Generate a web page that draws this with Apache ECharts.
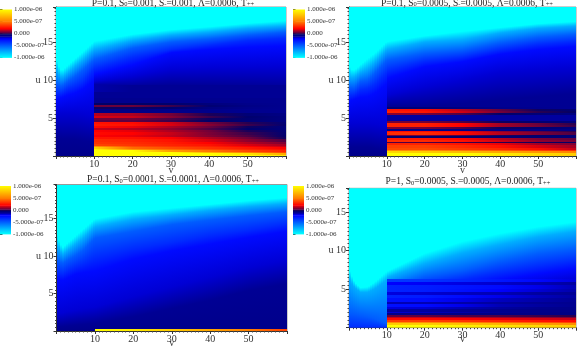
<!DOCTYPE html>
<html><head><meta charset="utf-8">
<style>html,body{margin:0;padding:0;background:#fff}#c{width:579px;height:349px}#c canvas{filter:blur(0.45px)}</style>
<script src="https://cdn.jsdelivr.net/npm/echarts@6/dist/echarts.min.js"></script>
</head><body><div id="c"></div>
<script>
// values are in units of 1e-8
const colorStops = [[-100,'#00ffff'],[-22,'#0000ff'],[-12,'#000094'],[-3,'#000068'],[0,'#280050'],[3,'#600040'],[20,'#ff0000'],[50,'#ff8000'],[100,'#ffff00']];
const colorbarTicks = {'100':'1.000e-06','50':'5.000e-07','0':'0.000','-50':'-5.000e-07','-100':'-1.000e-06'};
const contourLevels = [-100,-75,-50,-35,-25,-18,-12];
const bottomLevel = -10;
const vLeft = [0,0.5,1.5,3,5,7,10];
const vRight = [10,20,30,40,50,60];

const titles = [
  ['0.1','0.001','0.001','0','-','++'],
  ['0.1','0.0005','0.0005','0','-','++'],
  ['0.1','0.0001','0.0001','0','-','++'],
  ['1','0.0005','0.0005','0','-','++']
];

// contour heights u per v column, one number per contour level
const p1Left = [
 [13.2,11.5,9.5,8.3,7.5,5.5,2.5],[12,10.9,9.4,8.3,7.5,5.6,2.4],[11.2,10.3,9.2,8.3,7.7,5.7,2.2],
 [11.9,10.9,9.8,8.8,8,5.7,2.2],[12.8,11.8,10.5,9.2,8.3,5.7,2.2],[13.7,12.6,11.3,9.7,8.8,5.6,2],[15.1,14,12.7,11.5,10,5.3,1.8]];
const p1Right = [
 [15.1,14,12.7,11.5,10.7,9.8,9.2],[16,15.2,14.2,13,12,10.5,9],[16.6,15.9,15,14,13.6,11.4,9.2],
 [17,16.3,15.4,14.6,14,11.6,9.1],[17.45,16.8,15.9,15.2,14.3,11.7,9],[17.8,17.1,16.3,15.5,14.5,11.8,8.8]];
const p2Left = [
 [12,10.5,9,8,7.2,4.3,1.2],[11.4,10.3,9,8,7.3,4.3,1.2],[11.3,10.4,9,8.1,7.5,4.3,1.2],
 [12,11,9.8,8.7,7.7,4.3,1.2],[12.85,11.5,10,8.9,7.8,4.3,1.2],[13.6,12.4,11,9.5,8.3,4.2,1],[15.04,14,12.6,11,9.5,4,0.8]];
const p2Right = [
 [15.04,14,12.6,11.2,10.2,8,6.5],[15.8,15,13.5,12.5,11.75,9.1,6.5],[16.4,15.3,13.9,13,12.4,10,6.9],
 [16.9,16.2,14.9,14,13.4,11,7.4],[17.4,16.8,15.6,14.7,14,11.4,7.8],[17.7,17.1,16,15.1,14.4,11.75,8.2]];
const p3Left = [
 [13.55,11.7,9.6,7.9,7,2.4,0.6],[12.3,11.1,9.4,7.9,6.9,2.4,0.6],[11.1,10.2,9,7.6,6.75,2.4,0.6],
 [11.8,10.8,9.5,8.1,7.1,2.6,0.7],[12.7,11.6,10.1,8.6,7.6,2.8,0.8],[13.6,12.4,10.8,9,7.8,3,0.9],[14.96,13.9,12.4,9.8,8,3.2,1.05]];
const p3Right = [
 [14.96,13.9,12.4,9.8,8,3.2,1.05],[15.9,14.9,13.3,11,9.6,4.6,1.9],[16.4,15.5,14.2,11.8,10.7,5.9,3],
 [16.9,16.1,14.8,12.8,11.6,7.2,4.1],[17.4,16.6,15.4,13.5,12.5,8.5,5.4],[17.8,17,15.9,14.3,13.3,9.4,6.3]];
const p4Left = [
 [7.7,6.4,1.9,0,0,0,0],[7,5.9,1.9,0,0,0,0],[5.9,5.2,1.8,0,0,0,0],
 [5.2,4.6,1.6,0,0,0,0],[5.3,4.6,1.4,0,0,0,0],[6,5.1,1.1,0,0,0,0],[7.3,6.2,0.5,0,0,0,0]];
const p4Right = [
 [7.3,6.5,5,4,3,2,1],[9.65,8.3,6.6,5.5,4.5,3,1],[11.2,9.7,7.4,6.3,5.3,3.5,1],
 [12.25,10.8,8.6,7.2,6.2,5,3],[13.1,11.8,9.6,8,7,5.5,4],[13.75,12.5,10.2,8.7,7.7,6.2,5]];

// bands at v>=10: [uHigh, uLow, value at v=10,20,30,40,50,60]
const p1Bands = [
 [9.3,8.4,-14,-12,-12,-12,-12,-12],[8.4,7.6,-12,-12,-12,-12,-12,-12],[7.6,7,-11,-11,-11,-11,-11,-11],
 [7,6.75,-3,-3,-4,-7,-10,-11],[6.75,6.45,4,4,1,-5,-9,-11],[6.45,6.2,-2,-2,-4,-8,-10,-11],
 [6.2,5.6,-9,-9,-10,-10,-11,-11],[5.6,5.3,12,11,5,-1,-6,-9],[5.3,4.95,16,14,7,1,-4,-8],
 [4.95,4.7,5,5,2,-2,-5,-8],[4.7,4.5,3,3,1,-3,-6,-8],[4.5,4.2,24,22,15,5,0,-6],
 [4.2,3.9,26,24,16,7,1,-5],[3.9,3.65,22,18,11,4,-2,-7],[3.65,3.4,14,12,8,2,-4,-7],
 [3.4,3.1,20,17,11,5,-1,-6],[3.1,2.8,22,20,14,6,1,-5],[2.8,2.5,20,18,13,7,2,-4],
 [2.5,2.2,25,24,20,12,5,-2],[2.2,1.9,30,28,24,16,8,2],[1.9,1.6,32,30,26,20,12,6],
 [1.6,1.35,36,32,28,24,16,10],[1.35,1.15,60,38,32,28,20,14],[1.15,0.95,85,45,38,32,26,20],
 [0.95,0.75,100,60,46,38,30,24],[0.75,0.55,100,100,62,48,36,28],[0.55,0.35,100,100,100,70,50,36],
 [0.35,0.15,100,100,100,100,90,65],[0.15,0,100,100,100,100,100,90]];
const p2Bands = [
 [6.4,6.2,-6,-6,-8,-10,-11,-12],[6.2,5.9,25,22,12,3,-2,-5],[5.9,5.6,28,25,15,5,0,-3],[5.6,5.4,8,6,2,-3,-6,-8],
 [5.4,4.6,-13,-13,-13,-13,-13,-13],[4.6,4.4,5,5,2,-2,-5,-7],[4.4,4.1,28,27,20,10,4,0],[4.1,3.8,28,27,20,10,5,1],
 [3.8,3.6,6,5,2,-2,-5,-7],[3.6,3.35,-9,-9,-9,-9,-9,-9],[3.35,3.1,22,22,18,8,3,0],[3.1,2.8,30,30,22,12,6,2],
 [2.8,2.6,5,5,2,-1,-4,-6],[2.6,2.4,-4,-4,-4,-5,-5,-6],[2.4,2.15,25,25,20,12,6,3],[2.15,1.9,30,30,24,15,8,5],
 [1.9,1.75,2,2,1,0,-2,-3],[1.75,1.4,28,28,24,18,10,6],[1.4,1.1,35,35,30,24,16,10],[1.1,0.85,38,38,34,30,24,14],
 [0.85,0.6,55,55,48,42,35,30],[0.6,0.35,85,80,72,65,58,50],[0.35,0,100,100,100,92,85,80]];
const p3Bands = [[0.3,0,100,92,80,65,50,35]];
const p4Bands = [
 [6.3,5.9,-40,-38,-34,-29,-24,-19],[5.9,5.5,-22,-21,-19,-17,-15,-13],[5.5,5,-33,-31,-28,-25,-20,-15],
 [5,4.6,-33,-31,-27,-22,-18,-14],[4.6,4.2,-19,-18,-16,-15,-13,-12],[4.2,3.8,-32,-30,-25,-20,-16,-13],
 [3.8,3.4,-27,-25,-20,-16,-14,-12],[3.4,3.1,-15,-15,-14,-13,-12,-11],[3.1,2.7,-27,-25,-20,-15,-13,-11],
 [2.7,2.4,-19,-18,-15,-13,-11,-10],[2.4,2.1,-13,-13,-12,-11,-10,-10],[2.1,1.9,-18,-16,-14,-12,-10,-9],
 [1.9,1.7,-10,-10,-9,-9,-9,-9],[1.7,1.45,3,3,2,2,1,0],[1.45,1.2,14,14,12,10,8,6],[1.2,1,22,22,20,18,16,14],
 [1,0.8,35,35,32,28,24,22],[0.8,0.55,55,55,50,45,40,35],[0.55,0.3,80,80,75,70,62,55],[0.3,0,100,100,95,90,85,80]];

const panels = [
 {left:p1Left,right:p1Right,bands:p1Bands,uMax:19.6,grid:{left:56,top:7,width:230,height:149},bar:{left:0,top:9.5,width:12,height:48},titleX:173,titleY:-2,nameGap:9},
 {left:p2Left,right:p2Right,bands:p2Bands,uMax:19.6,grid:{left:349,top:7,width:230,height:149},bar:{left:293,top:9.5,width:12,height:48},titleX:467,titleY:-2,nameGap:9},
 {left:p3Left,right:p3Right,bands:p3Bands,uMax:19.55,grid:{left:56.5,top:184.5,width:230.5,height:148.5},bar:{left:0,top:186,width:11,height:48},titleX:173,titleY:174.5,nameGap:7},
 {left:p4Left,right:p4Right,bands:p4Bands,uMax:18.1,grid:{left:349,top:188.3,width:229,height:139.4},bar:{left:293,top:186,width:11,height:48},titleX:468,titleY:176.5,nameGap:7}
];

function colorOf(v){
  if(v<=colorStops[0][0]) return colorStops[0][1];
  for(let i=1;i<colorStops.length;i++){
    if(v<=colorStops[i][0]){
      const a=colorStops[i-1],b=colorStops[i];
      return echarts.color.lerp((v-a[0])/(b[0]-a[0]),[a[1],b[1]]);
    }
  }
  return colorStops[colorStops.length-1][1];
}
const FONT='"Liberation Serif"';
const Grad=(x1,y1,x2,y2,c1,c2)=>new echarts.graphic.LinearGradient(x1,y1,x2,y2,[{offset:0,color:c1},{offset:1,color:c2}],true);

function renderQuad(params,api){
  const a=api.coord([api.value(0),api.value(2)]), b=api.coord([api.value(1),api.value(3)]);
  const c=api.coord([api.value(1),api.value(5)]), d=api.coord([api.value(0),api.value(4)]);
  const c1=colorOf(api.value(6)), c2=colorOf(api.value(7));
  const w=b[0]-a[0], children=[];
  const x0=Math.round(a[0]), x1=Math.round(b[0]);
  for(let x=x0;x<x1;x+=2){
    const xe=Math.min(x+2,x1);
    const t0=(x-a[0])/w,t1=(xe-a[0])/w;
    const tl=a[1]+(b[1]-a[1])*t0,tr=a[1]+(b[1]-a[1])*t1;
    const bl=d[1]+(c[1]-d[1])*t0,br=d[1]+(c[1]-d[1])*t1;
    const y1=(tl+tr)/2,y2=(bl+br)/2;
    if(y2-y1<0.02) continue;
    children.push({type:'rect',shape:{x:x,y:Math.round(y1),width:xe-x,height:Math.max(1,Math.round(y2)-Math.round(y1))},style:{fill:Grad(0,y1,0,y2,c1,c2)}});
  }
  return {type:'group',children:children};
}
function renderBand(params,api){
  const a=api.coord([api.value(0),api.value(2)]), c=api.coord([api.value(1),api.value(3)]);
  const fill=Grad(a[0],0,c[0],0,colorOf(api.value(4)),colorOf(api.value(5)));
  return {type:'rect',shape:{x:Math.round(a[0]),y:Math.round(a[1]),width:Math.round(c[0])-Math.round(a[0]),height:Math.max(1,Math.round(c[1])-Math.round(a[1]))},style:{fill:fill}};
}
function renderBar(params,api){
  const a=api.coord([0,api.value(1)]), c=api.coord([1,api.value(0)]);
  const fill=Grad(0,a[1],0,c[1],colorOf(api.value(1)),colorOf(api.value(0)));
  return {type:'rect',shape:{x:a[0],y:a[1],width:c[0]-a[0],height:c[1]-a[1]+0.4},style:{fill:fill}};
}
function quadsFrom(vs,cols,uMax){
  const out=[];
  const hi=contourLevels.length;
  for(let i=0;i+1<vs.length;i++){
    const A=[uMax].concat(cols[i],[0]), B=[uMax].concat(cols[i+1],[0]);
    const vals=[contourLevels[0]].concat(contourLevels,[bottomLevel]);
    for(let j=0;j<=hi;j++){
      out.push([vs[i],vs[i+1],A[j],B[j],A[j+1],B[j+1],vals[j],vals[j+1]]);
    }
  }
  return out;
}
function bandsFrom(rows){
  const out=[];
  rows.forEach(r=>{
    for(let i=0;i+1<vRight.length;i++) out.push([vRight[i],vRight[i+1],r[0],r[1],r[2+i],r[3+i]]);
  });
  return out;
}

const option={animation:false,backgroundColor:'#fff',title:[],grid:[],xAxis:[],yAxis:[],series:[]};
const axisText={fontFamily:FONT,fontSize:10,color:'#333'};
panels.forEach((p,k)=>{
  const t=titles[k];
  const rt={fontFamily:FONT,fontSize:9.5,fontWeight:'normal',color:'#222'};
  option.title.push({
    left:p.titleX,top:p.titleY,textAlign:'center',padding:0,
    text:`{a|P=${t[0]}, S}{s|${t[3]}}{a|=${t[1]}, S}{s|${t[4]}}{a|=${t[2]}, Λ=0.0006, T}{s|${t[5]}}`,
    textStyle:{fontWeight:'normal',rich:{a:rt,s:{fontFamily:FONT,fontSize:6.5,fontWeight:'normal',color:'#222',verticalAlign:'bottom'}}}
  });
  const gi=option.grid.length;
  option.grid.push(Object.assign({show:true,borderColor:'#999',borderWidth:1,backgroundColor:'transparent'},p.grid));
  option.xAxis.push({gridIndex:gi,type:'value',min:0,max:60,interval:10,name:'v',nameLocation:'middle',nameGap:p.nameGap,nameMoveOverlap:false,
    nameTextStyle:axisText,axisLine:{lineStyle:{color:'#333',width:1}},
    axisTick:{length:3,lineStyle:{color:'#333',width:1}},minorTick:{show:true,splitNumber:10,length:1.5,lineStyle:{color:'#444'}},
    splitLine:{show:false},minorSplitLine:{show:false},
    axisLabel:Object.assign({margin:3,formatter:v=>(v>0&&v<60)?String(v):''},axisText)});
  option.yAxis.push({gridIndex:gi,type:'value',min:0,max:p.uMax,interval:5,
    axisLine:{show:true,lineStyle:{color:'#333',width:1}},
    axisTick:{length:3,lineStyle:{color:'#333',width:1}},minorTick:{show:true,splitNumber:10,length:1.5,lineStyle:{color:'#444'}},
    splitLine:{show:false},minorSplitLine:{show:false},
    axisLabel:Object.assign({margin:3,formatter:v=>v===10?'u 10':(v===5||v===15?String(v):'')},axisText)});
  option.series.push({type:'custom',xAxisIndex:gi,yAxisIndex:gi,clip:true,silent:true,renderItem:renderQuad,
    encode:{x:[0,1],y:[2,3,4,5]},data:quadsFrom(vLeft,p.left,p.uMax).concat(quadsFrom(vRight,p.right,p.uMax))});
  option.series.push({type:'custom',xAxisIndex:gi,yAxisIndex:gi,clip:true,silent:true,renderItem:renderBand,
    encode:{x:[0,1],y:[2,3]},data:bandsFrom(p.bands)});
  // colour bar
  const bi=option.grid.length;
  option.grid.push(p.bar);
  option.xAxis.push({gridIndex:bi,type:'value',min:0,max:1,show:false});
  option.yAxis.push({gridIndex:bi,type:'value',position:'right',min:-100,max:100,interval:50,
    axisLine:{show:false},axisTick:{length:2.5,lineStyle:{color:'#333'}},splitLine:{show:false},
    axisLabel:{margin:2,fontFamily:FONT,fontSize:7,color:'#333',showMinLabel:true,showMaxLabel:true,formatter:v=>colorbarTicks[String(v)]||''}});
  const segs=[];
  for(let i=0;i+1<colorStops.length;i++) segs.push([colorStops[i][0],colorStops[i+1][0]]);
  option.series.push({type:'custom',xAxisIndex:bi,yAxisIndex:bi,clip:false,silent:true,renderItem:renderBar,
    encode:{y:[0,1]},data:segs});
});
echarts.init(document.getElementById('c'),null,{renderer:'canvas'}).setOption(option);
</script></body></html>
